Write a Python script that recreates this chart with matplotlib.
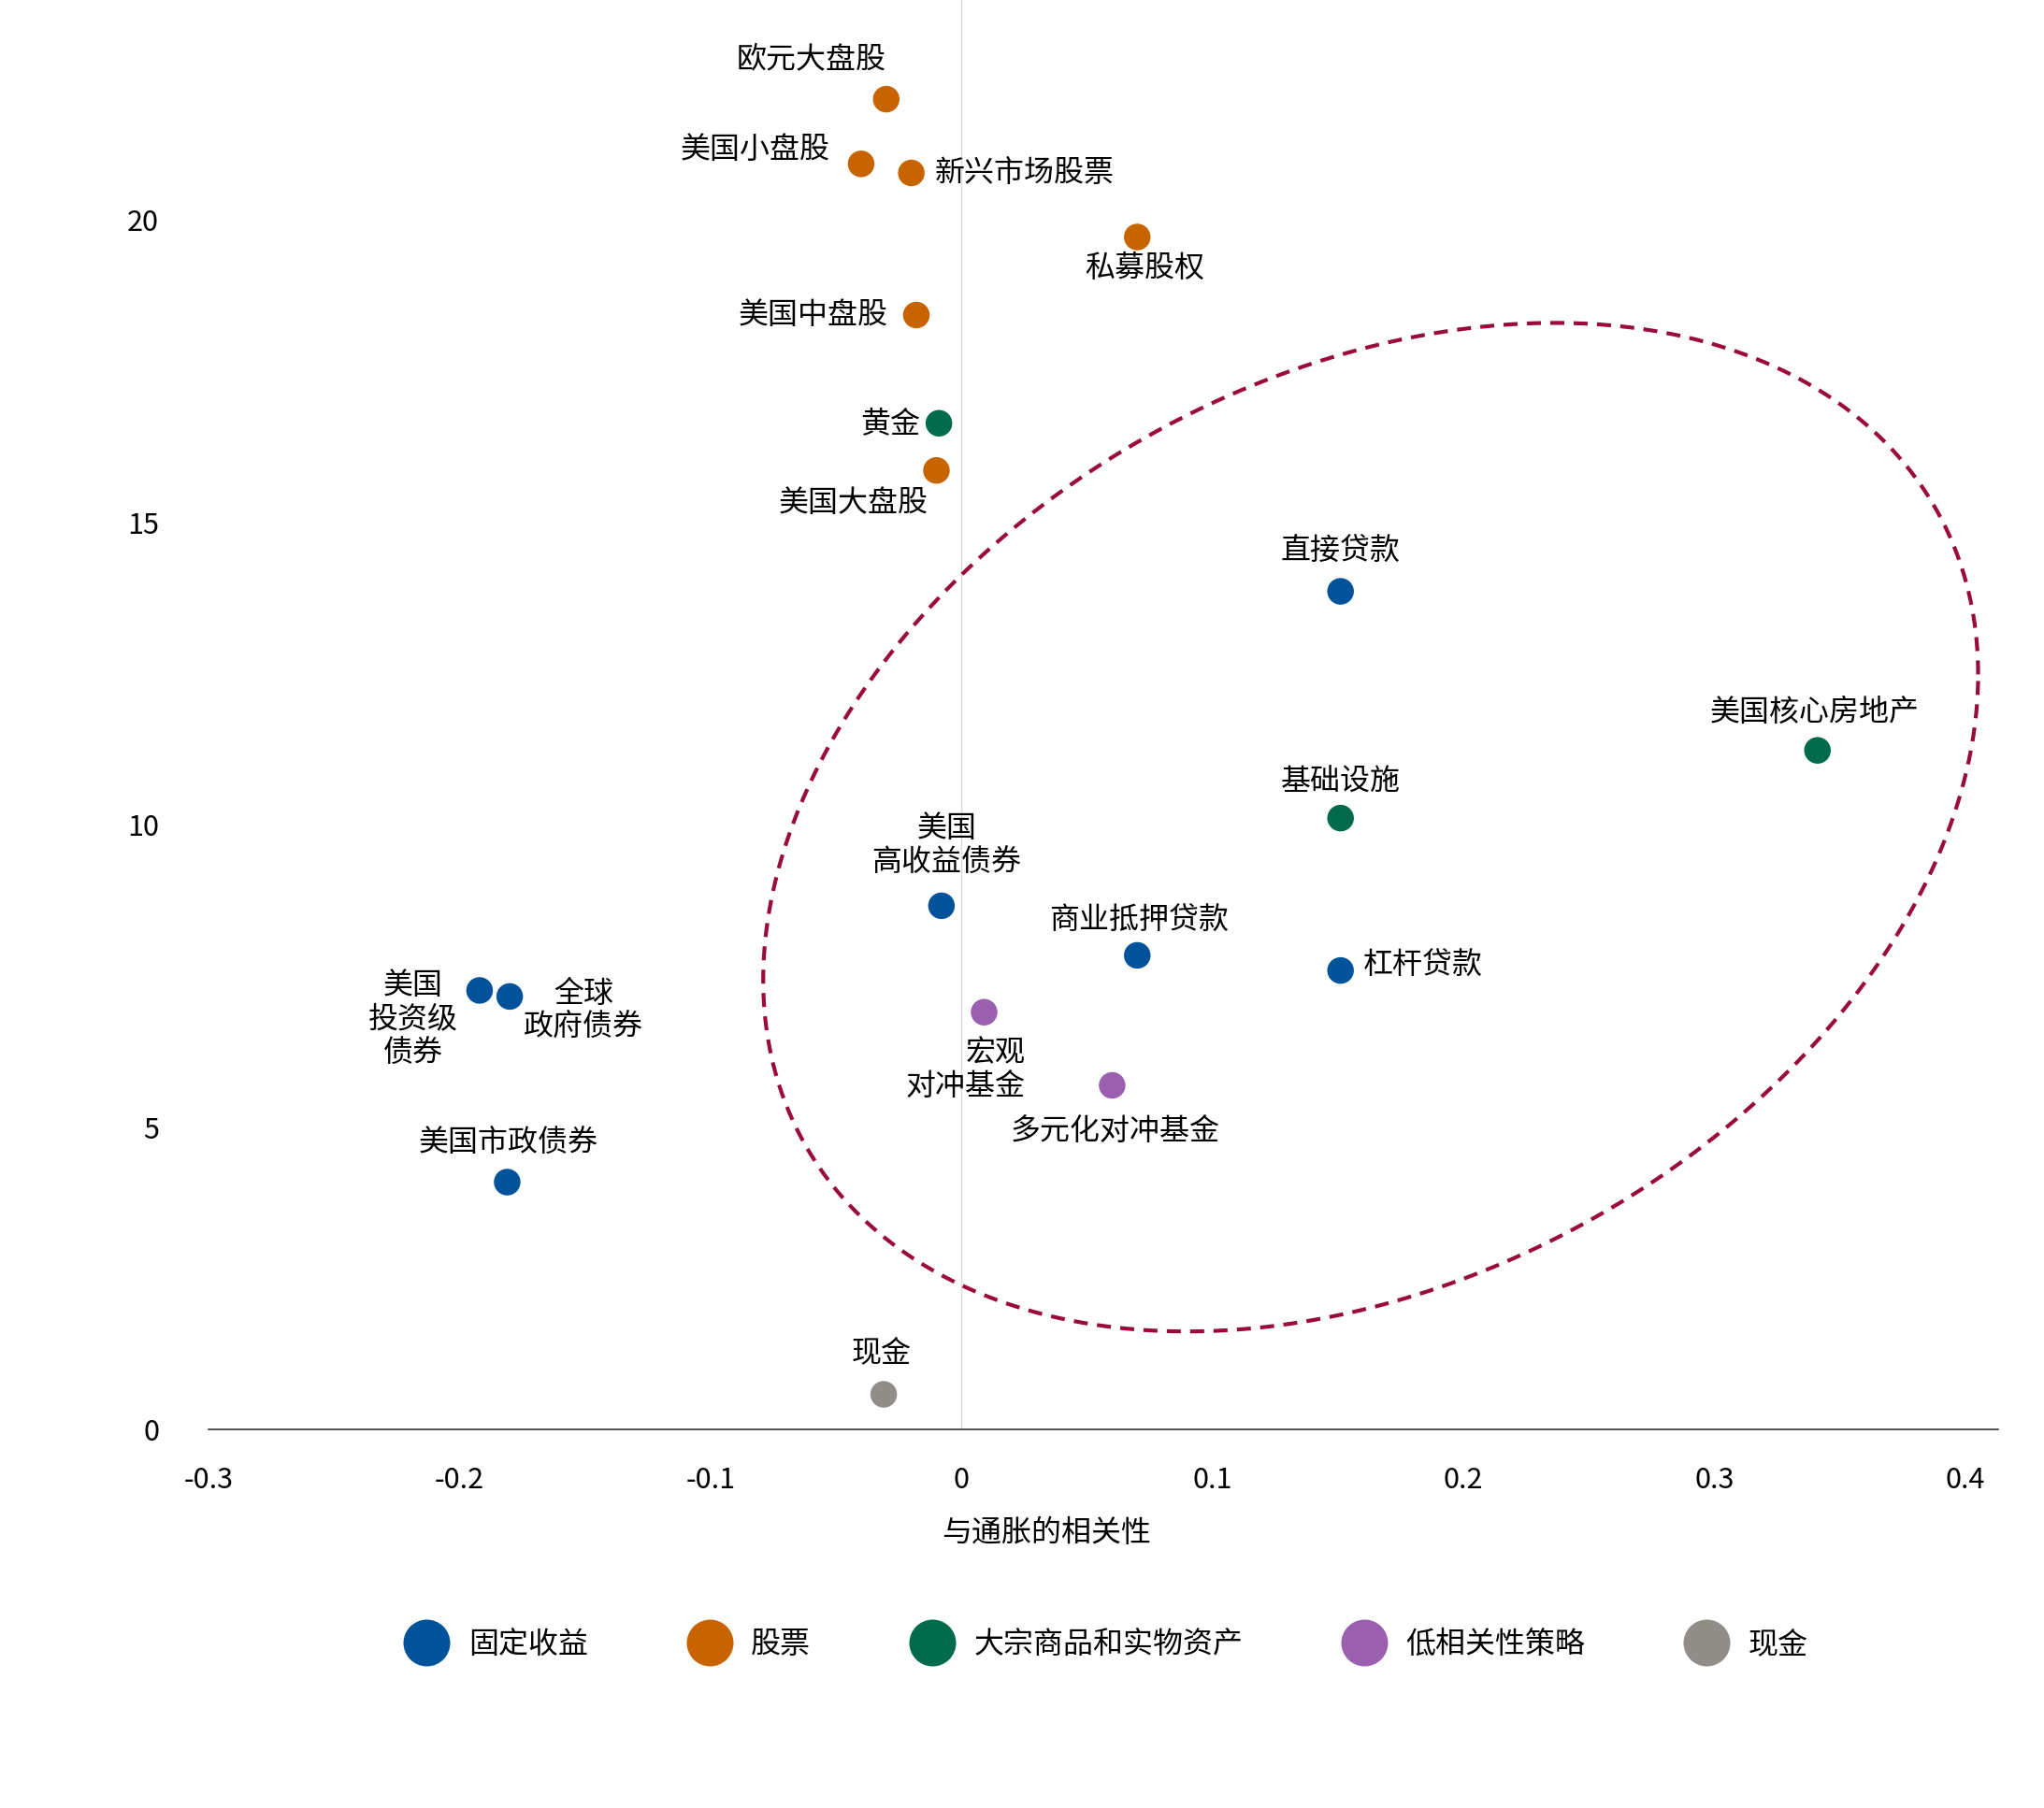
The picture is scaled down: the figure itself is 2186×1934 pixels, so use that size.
import numpy as np
import matplotlib.pyplot as plt
from matplotlib.lines import Line2D

plt.rcParams['font.family'] = ['Noto Sans CJK SC', 'DejaVu Sans']

groups = ["固定收益", "股票", "大宗商品和实物资产", "低相关性策略", "现金"]
group_colors = ["#00539B", "#C86400", "#006B4A", "#9B5FB0", "#918E8A"]

names = ["欧元大盘股", "美国小盘股", "新兴市场股票", "私募股权", "美国中盘股",
         "黄金", "美国大盘股", "直接贷款", "美国核心房地产", "基础设施",
         "美国\n高收益债券", "商业抵押贷款", "杠杆贷款", "美国\n投资级\n债券",
         "全球\n政府债券", "宏观\n对冲基金", "多元化对冲基金", "美国市政债券", "现金"]
corr = [-0.030, -0.040, -0.020, 0.070, -0.018,
        -0.009, -0.010, 0.151, 0.341, 0.151,
        -0.008, 0.070, 0.151, -0.192,
        -0.180, 0.009, 0.060, -0.181, -0.031]
ret = [22.0, 20.93, 20.78, 19.72, 18.43,
       16.64, 15.86, 13.86, 11.23, 10.11,
       8.66, 7.84, 7.59, 7.26,
       7.16, 6.90, 5.69, 4.09, 0.58]
group_of = [1, 1, 1, 1, 1,
            2, 1, 0, 2, 2,
            0, 0, 0, 0,
            0, 3, 3, 0, 4]

# label placement: offset in points, horizontal alignment
label_pos = [((-58, 31), "center"), ((-24, 11), "right"), ((18, 0), "left"),
             ((6, -24), "center"), ((-22, 0), "right"), ((-14, 0), "right"),
             ((-64, -25), "center"), ((0, 31), "center"), ((-2, 29), "center"),
             ((0, 28), "center"), ((4, 47), "center"), ((1, 27), "center"),
             ((17, 4), "left"), ((-51, -22), "center"), ((57, -11), "center"),
             ((32, -44), "right"), ((2, -35), "center"), ((1, 30), "center"),
             ((-2, 32), "center")]

# dashed ellipse (centre, axis vectors in data units)
ell_cx, ell_cy = 0.163, 9.96
ell_a, ell_c, ell_d = 0.242, 2.526, 7.948

x_ticks = [-0.3, -0.2, -0.1, 0, 0.1, 0.2, 0.3, 0.4]
x_tick_labels = ["-0.3", "-0.2", "-0.1", "0", "0.1", "0.2", "0.3", "0.4"]
y_ticks = [0, 5, 10, 15, 20]


def main() -> None:
    fig = plt.figure(figsize=(21.86, 19.34), dpi=100)
    ax = fig.add_axes([0.102, 0.2094, 0.8756, 0.7906])
    ax.set_xlim(-0.3, 0.413)
    ax.set_ylim(0, 23.64)

    ax.axvline(0, color="#dcdcdc", lw=1.0, zorder=0)

    t = np.linspace(0, 2 * np.pi, 400)
    ax.plot(ell_cx + ell_a * np.cos(t),
            ell_cy + ell_c * np.cos(t) + ell_d * np.sin(t),
            color="#9A0A3C", lw=3.0, linestyle=(0, (3.6, 2.4)), zorder=1)

    cols = [group_colors[g] for g in group_of]
    ax.scatter(corr, ret, s=420, c=cols, linewidths=0, zorder=3)

    for i, name in enumerate(names):
        (dx, dy), ha = label_pos[i]
        ax.annotate(name, (corr[i], ret[i]), xytext=(dx, dy),
                    textcoords="offset points", ha=ha, va="center",
                    fontsize=23, linespacing=1.15, multialignment=ha)

    for side in ["top", "right", "left"]:
        ax.spines[side].set_visible(False)
    ax.spines["bottom"].set_color("#222222")
    ax.spines["bottom"].set_linewidth(1.1)

    ax.set_xticks(x_ticks)
    ax.set_xticklabels(x_tick_labels)
    ax.set_yticks(y_ticks)
    ax.tick_params(axis="both", length=0, labelsize=22)
    ax.tick_params(axis="x", pad=28)
    ax.tick_params(axis="y", pad=38)

    ax.set_xlabel("与通胀的相关性", fontsize=23)
    ax.xaxis.set_label_coords(0.468, -0.062)

    handles = [Line2D([], [], marker="o", linestyle="none", markersize=36,
                      markerfacecolor=c, markeredgewidth=0) for c in group_colors]
    fig.legend(handles, groups, loc="center", bbox_to_anchor=(0.543, 0.0905),
               ncol=5, frameon=False, fontsize=23, handlelength=1.0,
               handletextpad=0.9, columnspacing=3.55)

    fig.savefig("out.png", dpi=100)


if __name__ == '__main__':
    main()
